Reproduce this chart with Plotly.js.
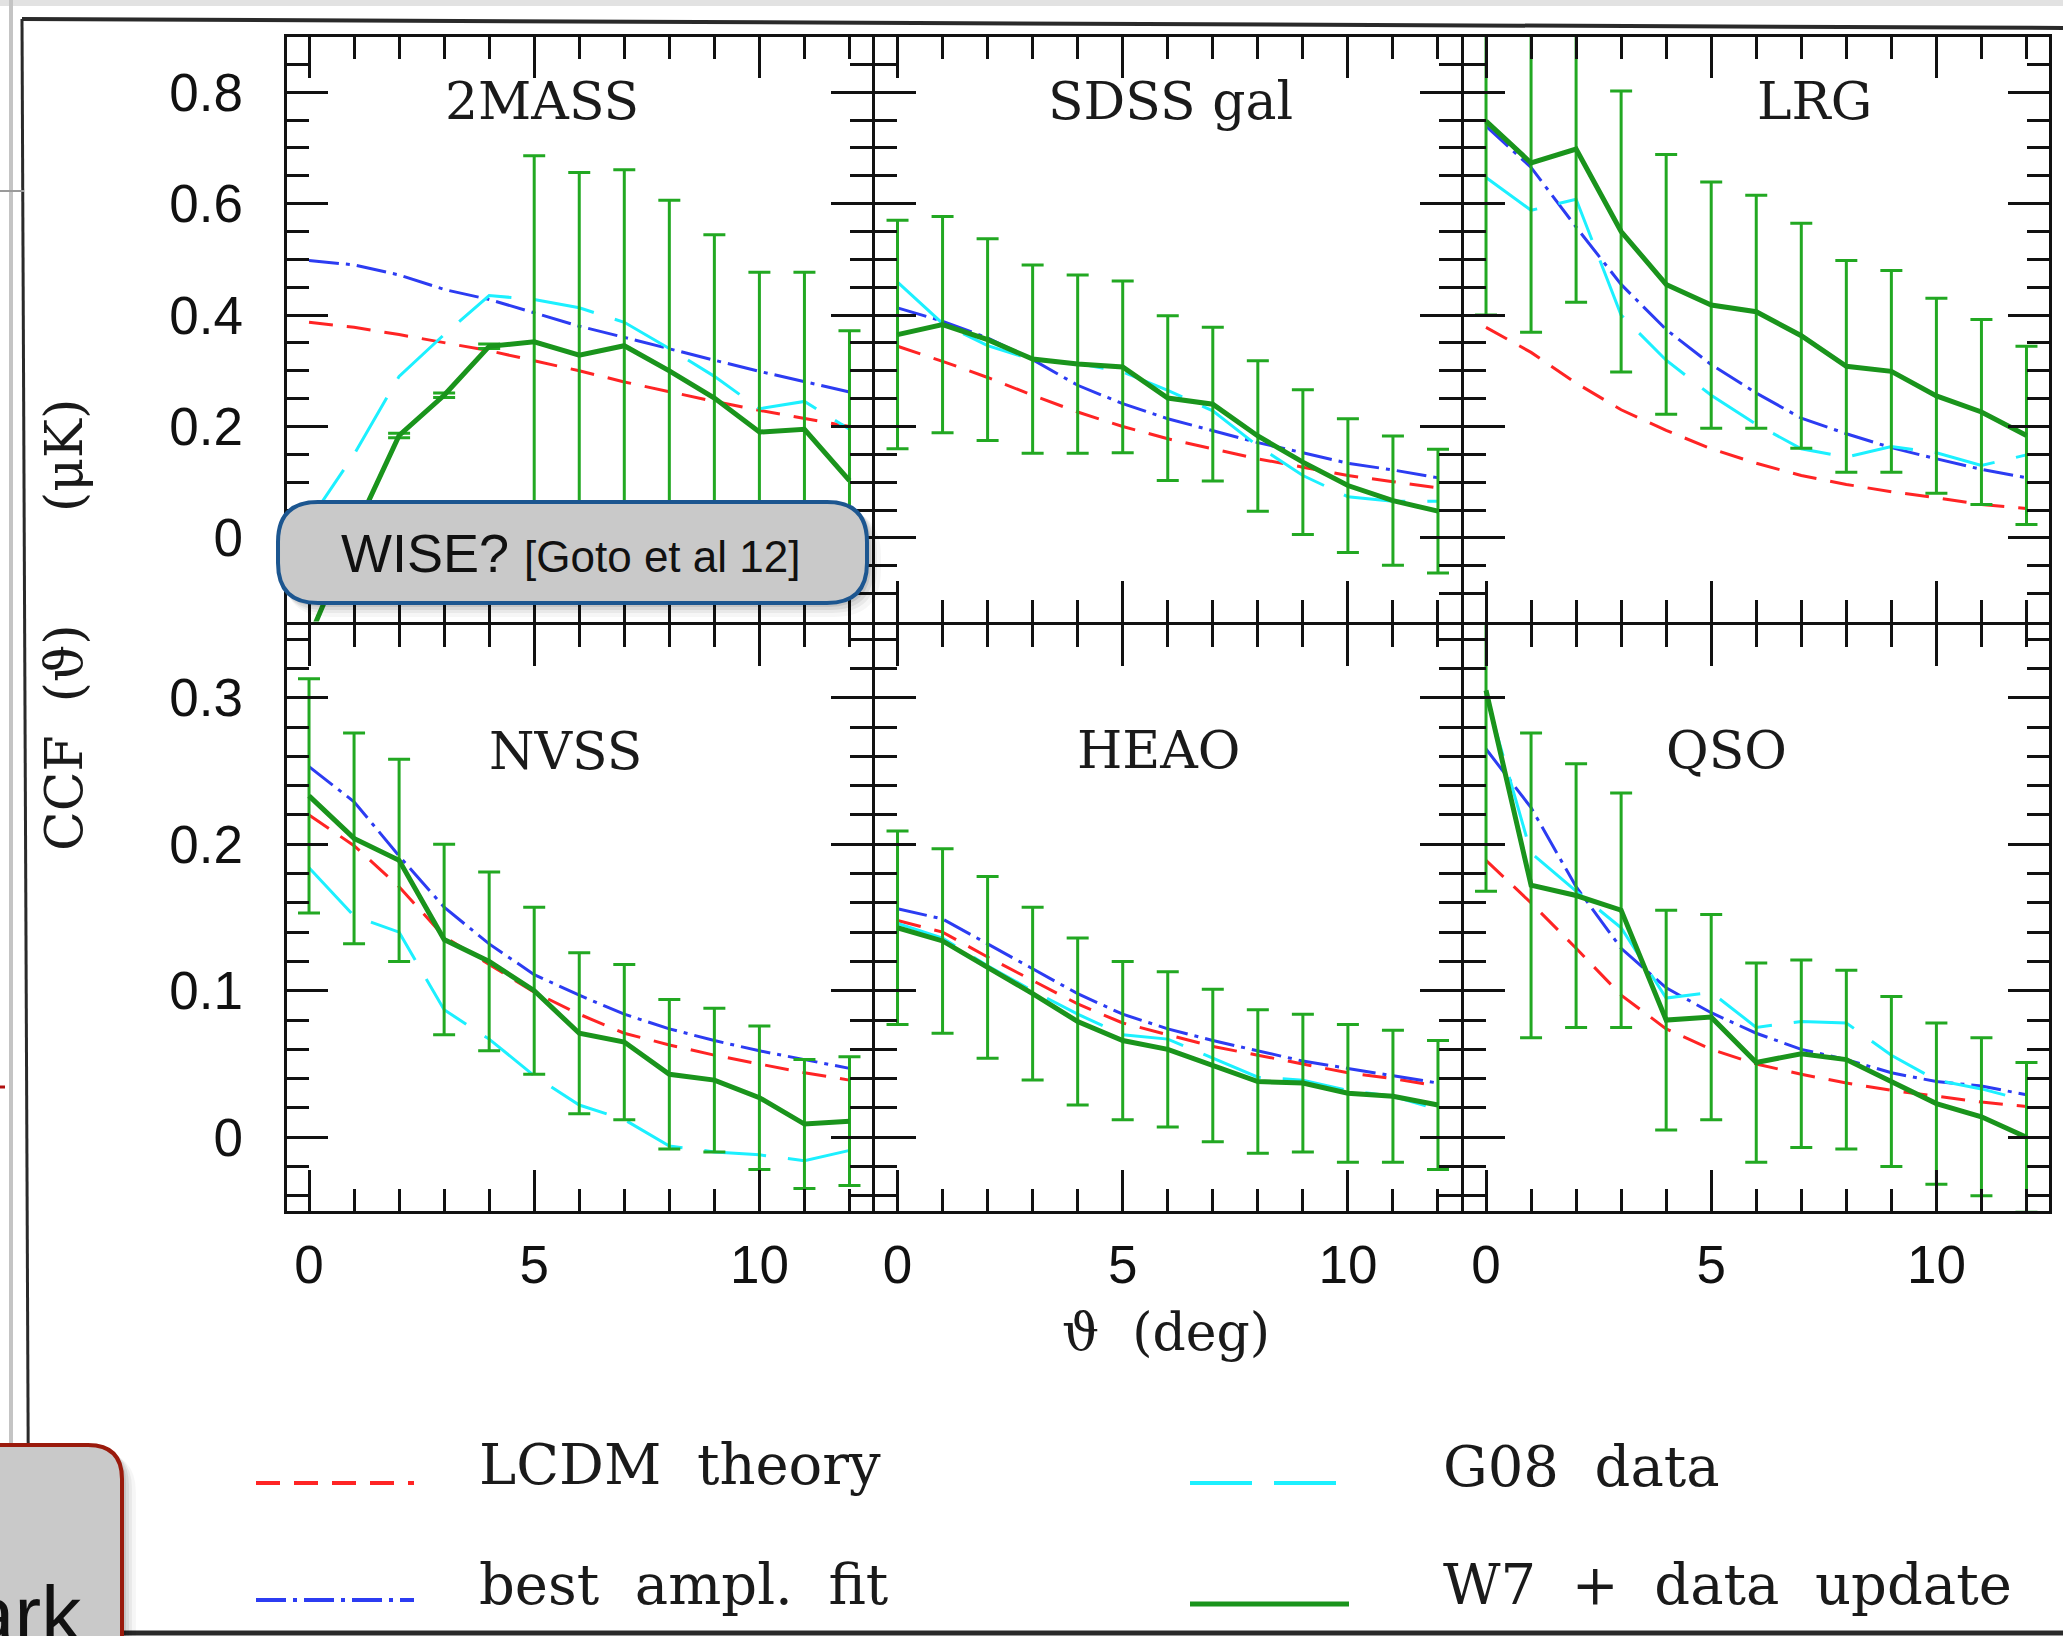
<!DOCTYPE html>
<html>
<head>
<meta charset="utf-8">
<script src="https://cdn.plot.ly/plotly-3.0.1.min.js"></script>
<style>
  html, body { margin: 0; padding: 0; background: #ffffff; }
  #chart { width: 2063px; height: 1636px; }
</style>
</head>
<body>
<div id="chart"></div>
<script>
// Angular separation of the bins (deg)
const theta = [0, 1, 2, 3, 4, 5, 6, 7, 8, 9, 10, 11, 12];

const surveyNames = ['2MASS', 'SDSS gal', 'LRG', 'NVSS', 'HEAO', 'QSO'];

// 2MASS
const lcdm_2mass = [0.387, 0.378, 0.365, 0.350, 0.336, 0.318, 0.300, 0.280, 0.262, 0.245, 0.229, 0.214, 0.200];
const fit_2mass  = [0.498, 0.490, 0.472, 0.446, 0.428, 0.404, 0.380, 0.360, 0.339, 0.319, 0.299, 0.280, 0.262];
const g08_2mass  = [0.030, 0.150, 0.290, 0.365, 0.435, 0.428, 0.413, 0.387, 0.340, 0.290, 0.232, 0.245, 0.195];
const w7_2mass   = [-0.180, 0.010, 0.184, 0.256, 0.344, 0.352, 0.328, 0.345, 0.300, 0.251, 0.190, 0.195, 0.103];
const err_2mass  = [0.004, 0.004, 0.004, 0.004, 0.004, 0.334, 0.328, 0.316, 0.306, 0.293, 0.287, 0.282, 0.269];

// SDSS galaxies
const lcdm_sdss = [0.344, 0.317, 0.288, 0.256, 0.226, 0.200, 0.178, 0.160, 0.142, 0.127, 0.112, 0.101, 0.090];
const fit_sdss  = [0.413, 0.389, 0.359, 0.320, 0.274, 0.241, 0.214, 0.193, 0.171, 0.153, 0.134, 0.122, 0.108];
const g08_sdss  = [0.459, 0.385, 0.345, 0.320, 0.313, 0.298, 0.265, 0.228, 0.165, 0.112, 0.074, 0.066, 0.066];
const w7_sdss   = [0.365, 0.383, 0.356, 0.321, 0.312, 0.307, 0.251, 0.240, 0.183, 0.136, 0.094, 0.067, 0.048];
const err_sdss  = [0.205, 0.194, 0.181, 0.169, 0.160, 0.154, 0.148, 0.138, 0.135, 0.130, 0.120, 0.116, 0.111];

// LRG
const lcdm_lrg = [0.378, 0.333, 0.278, 0.230, 0.193, 0.160, 0.134, 0.112, 0.096, 0.083, 0.072, 0.060, 0.053];
const fit_lrg  = [0.739, 0.665, 0.558, 0.455, 0.374, 0.311, 0.260, 0.215, 0.187, 0.162, 0.142, 0.123, 0.108];
const g08_lrg  = [0.647, 0.588, 0.608, 0.400, 0.319, 0.256, 0.204, 0.160, 0.145, 0.164, 0.153, 0.130, 0.149];
const w7_lrg   = [0.748, 0.673, 0.698, 0.550, 0.455, 0.418, 0.406, 0.363, 0.308, 0.299, 0.255, 0.226, 0.184];
const err_lrg  = [0.348, 0.304, 0.275, 0.252, 0.233, 0.221, 0.209, 0.202, 0.190, 0.181, 0.175, 0.166, 0.160];

// NVSS
const lcdm_nvss = [0.220, 0.199, 0.171, 0.137, 0.118, 0.099, 0.084, 0.071, 0.063, 0.056, 0.050, 0.044, 0.039];
const fit_nvss  = [0.253, 0.229, 0.192, 0.157, 0.132, 0.111, 0.097, 0.084, 0.074, 0.066, 0.059, 0.053, 0.047];
const g08_nvss  = [0.184, 0.151, 0.140, 0.087, 0.067, 0.042, 0.022, 0.012, -0.006, -0.010, -0.012, -0.016, -0.009];
const w7_nvss   = [0.233, 0.204, 0.189, 0.135, 0.120, 0.100, 0.071, 0.065, 0.043, 0.039, 0.027, 0.009, 0.011];
const err_nvss  = [0.080, 0.072, 0.069, 0.065, 0.061, 0.057, 0.055, 0.053, 0.051, 0.049, 0.049, 0.044, 0.044];

// HEAO
const lcdm_heao = [0.148, 0.140, 0.123, 0.107, 0.091, 0.078, 0.070, 0.062, 0.056, 0.050, 0.044, 0.040, 0.035];
const fit_heao  = [0.156, 0.149, 0.132, 0.115, 0.098, 0.084, 0.074, 0.066, 0.059, 0.052, 0.047, 0.042, 0.037];
const g08_heao  = [0.146, 0.136, 0.117, 0.100, 0.084, 0.070, 0.067, 0.054, 0.041, 0.039, 0.032, 0.028, 0.019];
const w7_heao   = [0.143, 0.134, 0.116, 0.098, 0.079, 0.066, 0.060, 0.049, 0.038, 0.037, 0.030, 0.028, 0.022];
const err_heao  = [0.066, 0.063, 0.062, 0.059, 0.057, 0.054, 0.053, 0.052, 0.049, 0.047, 0.047, 0.045, 0.044];

// QSO
const lcdm_qso = [0.189, 0.160, 0.129, 0.097, 0.074, 0.060, 0.050, 0.043, 0.037, 0.032, 0.028, 0.024, 0.021];
const fit_qso  = [0.265, 0.225, 0.171, 0.129, 0.102, 0.085, 0.071, 0.060, 0.053, 0.044, 0.038, 0.035, 0.029];
const g08_qso  = [0.301, 0.194, 0.168, 0.143, 0.095, 0.099, 0.075, 0.079, 0.078, 0.056, 0.039, 0.033, 0.025];
const w7_qso   = [0.305, 0.172, 0.165, 0.155, 0.080, 0.082, 0.051, 0.057, 0.053, 0.038, 0.023, 0.014, 0.000];
const err_qso  = [0.137, 0.104, 0.090, 0.080, 0.075, 0.070, 0.068, 0.064, 0.061, 0.058, 0.055, 0.054, 0.051];

const legendLabels = ['LCDM\u00a0\u00a0theory', 'best\u00a0\u00a0ampl.\u00a0\u00a0fit', 'G08\u00a0\u00a0data', 'W7\u00a0\u00a0+\u00a0\u00a0data\u00a0\u00a0update'];

// ---------------------------------------------------------------
const panels = [
  { lcdm: lcdm_2mass, fit: fit_2mass, g08: g08_2mass, w7: w7_2mass, err: err_2mass },
  { lcdm: lcdm_sdss,  fit: fit_sdss,  g08: g08_sdss,  w7: w7_sdss,  err: err_sdss },
  { lcdm: lcdm_lrg,   fit: fit_lrg,   g08: g08_lrg,   w7: w7_lrg,   err: err_lrg },
  { lcdm: lcdm_nvss,  fit: fit_nvss,  g08: g08_nvss,  w7: w7_nvss,  err: err_nvss },
  { lcdm: lcdm_heao,  fit: fit_heao,  g08: g08_heao,  w7: w7_heao,  err: err_heao },
  { lcdm: lcdm_qso,   fit: fit_qso,   g08: g08_qso,   w7: w7_qso,   err: err_qso }
];

const W = 2063, H = 1636;
const px = x => x / W;
const py = y => 1 - y / H;

const COLORS = { lcdm: '#ff2424', fit: '#2c3cf2', g08: '#1cf0ff', w7: '#1a941c', err: '#22a822' };
const DASH = { lcdm: '24px,14px', fit: '30px,7px,4px,7px', g08: '62px,22px' };

// plot areas in pixels; axis lines (3px) sit just outside, so neighbours share one frame line
const LW = 3;
const colX = [[286.5, 872], [875, 1460.5], [1463.5, 2049]];
const rowY = [[36.5, 621.5], [624.5, 1210.5]];
const rowRange = [[-0.15, 0.9], [-0.05, 0.35]];
const rowDtick = [0.2, 0.1];
const rowMinor = [0.05, 0.02];

const tickFont = { family: 'Liberation Sans, Arial, sans-serif', size: 53, color: '#111' };
const serif = 'DejaVu Serif, Liberation Serif, serif';

const traces = [];
const layout = {
  width: W, height: H,
  margin: { l: 0, r: 0, t: 0, b: 0 },
  paper_bgcolor: '#ffffff',
  plot_bgcolor: '#ffffff',
  showlegend: false,
  font: { family: serif, color: '#111' },
  shapes: [],
  annotations: []
};

panels.forEach((p, i) => {
  const r = Math.floor(i / 3), c = i % 3;
  const sfx = i === 0 ? '' : String(i + 1);
  const xa = 'x' + sfx, ya = 'y' + sfx;

  layout['xaxis' + sfx] = {
    domain: [px(colX[c][0]), px(colX[c][1])],
    anchor: ya,
    range: [-0.5, 12.5],
    showgrid: false, zeroline: false,
    showline: true, linecolor: '#111', linewidth: LW, mirror: 'allticks',
    ticks: 'inside', ticklen: 41, tickwidth: 3, tickcolor: '#111',
    tick0: 0, dtick: 5,
    minor: { ticks: 'inside', ticklen: 22, tickwidth: 3, tickcolor: '#111', tick0: 0, dtick: 1, showgrid: false },
    showticklabels: r === 1,
    tickfont: tickFont,
    ticklabelstandoff: 6,
    fixedrange: true
  };
  layout['yaxis' + sfx] = {
    domain: [py(rowY[r][1]), py(rowY[r][0])],
    anchor: xa,
    range: rowRange[r],
    showgrid: false, zeroline: false,
    showline: true, linecolor: '#111', linewidth: LW, mirror: 'allticks',
    ticks: 'inside', ticklen: 41, tickwidth: 3, tickcolor: '#111',
    tick0: 0, dtick: rowDtick[r],
    minor: { ticks: 'inside', ticklen: 22, tickwidth: 3, tickcolor: '#111', tick0: 0, dtick: rowMinor[r], showgrid: false },
    showticklabels: c === 0,
    tickfont: tickFont,
    ticklabelstandoff: 30,
    fixedrange: true
  };

  traces.push({
    type: 'scatter', mode: 'lines', x: theta, y: p.lcdm, xaxis: xa, yaxis: ya,
    line: { color: COLORS.lcdm, width: 3, dash: DASH.lcdm }, hoverinfo: 'skip'
  });
  traces.push({
    type: 'scatter', mode: 'lines', x: theta, y: p.fit, xaxis: xa, yaxis: ya,
    line: { color: COLORS.fit, width: 3, dash: DASH.fit }, hoverinfo: 'skip'
  });
  traces.push({
    type: 'scatter', mode: 'lines', x: theta, y: p.g08, xaxis: xa, yaxis: ya,
    line: { color: COLORS.g08, width: 3, dash: DASH.g08 }, hoverinfo: 'skip'
  });
  traces.push({
    type: 'scatter', mode: 'lines', x: theta, y: p.w7, xaxis: xa, yaxis: ya,
    line: { color: COLORS.w7, width: 5 },
    error_y: { type: 'data', array: p.err, visible: true, color: COLORS.err, thickness: 3, width: 11 },
    hoverinfo: 'skip'
  });
});

// survey names inside each panel
const nameCenters = [[542, 101], [1170, 101], [1814, 101], [565, 751], [1159, 750], [1726, 750]];
surveyNames.forEach((n, i) => {
  layout.annotations.push({
    xref: 'paper', yref: 'paper', x: px(nameCenters[i][0]), y: py(nameCenters[i][1]),
    xanchor: 'center', yanchor: 'middle', showarrow: false,
    text: n, font: { family: serif, size: 52, color: '#1a1a1a' }
  });
});

// axis titles
layout.annotations.push({
  xref: 'paper', yref: 'paper', x: px(1166), y: py(1332),
  xanchor: 'center', yanchor: 'middle', showarrow: false,
  text: '\u03d1\u00a0\u00a0(deg)', font: { family: serif, size: 52, color: '#1a1a1a' }
});
layout.annotations.push({
  xref: 'paper', yref: 'paper', x: px(64), y: py(738),
  xanchor: 'center', yanchor: 'middle', showarrow: false, textangle: -90,
  text: 'CCF\u00a0\u00a0(\u03d1)', font: { family: serif, size: 52, color: '#1a1a1a' }
});
layout.annotations.push({
  xref: 'paper', yref: 'paper', x: px(64), y: py(456),
  xanchor: 'center', yanchor: 'middle', showarrow: false, textangle: -90,
  text: '(\u03bcK)', font: { family: serif, size: 52, color: '#1a1a1a' }
});

// legend: line samples and labels
const legendItems = [
  { key: 'lcdm', x0: 256, x1: 414, y: 1483, tx: 477, ty: 1464 },
  { key: 'fit',  x0: 256, x1: 414, y: 1600, tx: 477, ty: 1584 },
  { key: 'g08',  x0: 1190, x1: 1349, y: 1483, tx: 1441, ty: 1466 },
  { key: 'w7',   x0: 1190, x1: 1349, y: 1604, tx: 1441, ty: 1584 }
];
legendItems.forEach((it, k) => {
  layout.shapes.push({
    type: 'line', xref: 'paper', yref: 'paper', layer: 'above',
    x0: px(it.x0), x1: px(it.x1), y0: py(it.y), y1: py(it.y),
    line: { color: COLORS[it.key], width: it.key === 'w7' ? 5 : 4, dash: it.key === 'w7' ? 'solid' : DASH[it.key] }
  });
  layout.annotations.push({
    xref: 'paper', yref: 'paper', x: px(it.tx), y: py(it.ty),
    xanchor: 'left', yanchor: 'middle', showarrow: false,
    text: legendLabels[k], font: { family: serif, size: 56, color: '#1a1a1a' }
  });
});

// rounded rectangle as a path in paper coordinates
function roundRect(x0, y0, x1, y1, rad) {
  const P = (x, y) => px(x).toFixed(5) + ',' + py(y).toFixed(5);
  return 'M' + P(x0 + rad, y0) + ' L' + P(x1 - rad, y0) +
    ' Q' + P(x1, y0) + ' ' + P(x1, y0 + rad) +
    ' L' + P(x1, y1 - rad) +
    ' Q' + P(x1, y1) + ' ' + P(x1 - rad, y1) +
    ' L' + P(x0 + rad, y1) +
    ' Q' + P(x0, y1) + ' ' + P(x0, y1 - rad) +
    ' L' + P(x0, y0 + rad) +
    ' Q' + P(x0, y0) + ' ' + P(x0 + rad, y0) + ' Z';
}
function softShadow(x0, y0, x1, y1, rad) {
  [[14, 0.035], [10, 0.05], [7, 0.07], [4, 0.09]].forEach(([d, a]) => {
    layout.shapes.push({
      type: 'path', xref: 'paper', yref: 'paper', layer: 'above',
      path: roundRect(x0 + d * 0.4, y0 + d * 0.5, x1 + d, y1 + d, rad + d * 0.5),
      fillcolor: 'rgba(0,0,0,' + a + ')', line: { width: 0 }
    });
  });
}

// slide frame around the figure
layout.shapes.push(
  { type: 'rect', xref: 'paper', yref: 'paper', layer: 'above', x0: 0, x1: 1, y0: py(6), y1: 1,
    fillcolor: '#e2e2e2', line: { width: 0 } },
  { type: 'line', xref: 'paper', yref: 'paper', layer: 'above', x0: px(22), x1: 1, y0: py(19), y1: py(28),
    line: { color: '#2a2a2a', width: 4 } },
  { type: 'line', xref: 'paper', yref: 'paper', layer: 'above', x0: px(22), x1: px(29), y0: py(19), y1: py(1636),
    line: { color: '#2a2a2a', width: 3 } },
  { type: 'line', xref: 'paper', yref: 'paper', layer: 'above', x0: px(11), x1: px(11), y0: py(0), y1: py(1636),
    line: { color: '#c4c4c4', width: 4 } },
  { type: 'line', xref: 'paper', yref: 'paper', layer: 'above', x0: 0, x1: px(24), y0: py(191), y1: py(191),
    line: { color: '#9a9a9a', width: 2 } },
  { type: 'line', xref: 'paper', yref: 'paper', layer: 'above', x0: 0, x1: px(5), y0: py(1087), y1: py(1087),
    line: { color: '#b01010', width: 3 } },
  { type: 'line', xref: 'paper', yref: 'paper', layer: 'above', x0: 0, x1: 1, y0: py(1633), y1: py(1633),
    line: { color: '#2a2a2a', width: 5 } }
);

// callout box over the 2MASS panel
softShadow(278, 502, 867, 603, 40);
layout.shapes.push({
  type: 'path', xref: 'paper', yref: 'paper', layer: 'above',
  path: roundRect(278, 502, 867, 603, 40),
  fillcolor: '#c9c9c9', line: { color: '#1c5690', width: 4 }
});
layout.annotations.push({
  xref: 'paper', yref: 'paper', x: px(570), y: py(553),
  xanchor: 'center', yanchor: 'middle', showarrow: false,
  text: 'WISE? <span style="font-size:44px">[Goto et al 12]</span>',
  font: { family: 'Liberation Sans, Arial, sans-serif', size: 54, color: '#111' }
});

// second callout box at the lower left edge
softShadow(-40, 1445, 122, 1700, 34);
layout.shapes.push({
  type: 'path', xref: 'paper', yref: 'paper', layer: 'above',
  path: roundRect(-40, 1445, 122, 1700, 34),
  fillcolor: '#c9c9c9', line: { color: '#9a1a0c', width: 4 }
});
layout.annotations.push({
  xref: 'paper', yref: 'paper', x: px(84), y: py(1614),
  xanchor: 'right', yanchor: 'middle', showarrow: false,
  text: 'ark', font: { family: 'Liberation Sans, Arial, sans-serif', size: 80, color: '#111' }
});

Plotly.newPlot('chart', traces, layout, { staticPlot: true, displayModeBar: false });
</script>
</body>
</html>
